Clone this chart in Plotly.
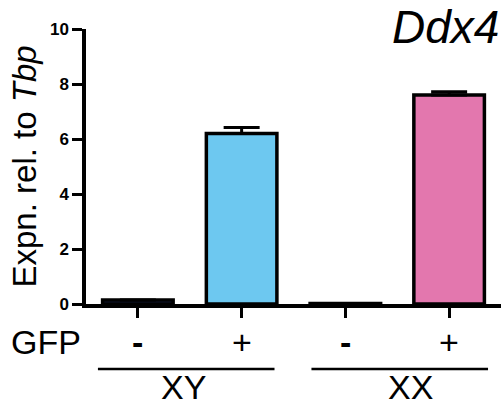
import plotly.graph_objects as go

categories = ["XY -", "XY +", "XX -", "XX +"]
gfp_labels = ["-", "+", "-", "+"]
values = [0.15, 6.2, 0.02, 7.6]
errors = [0.0, 0.22, 0.0, 0.12]
colors = ["#1B2753", "#6DC8F0", "#6B1F45", "#E377AE"]
group_labels = ["XY", "XX"]
y_ticks = [0, 2, 4, 6, 8, 10]

FONT = "Liberation Sans, Arial, Helvetica, sans-serif"
xs = list(range(len(categories)))

fig = go.Figure()
fig.add_trace(go.Bar(
    x=xs, y=values, width=0.68,
    marker=dict(color=colors, line=dict(color="black", width=3.5)),
    error_y=dict(type="data", array=errors, arrayminus=[0] * 4, symmetric=False,
                 color="black", thickness=3, width=18),
    showlegend=False,
))

annotations = []
for x, lab in zip(xs, gfp_labels):
    txt = "<b>-</b>" if lab == "-" else lab
    annotations.append(dict(x=x, y=-0.138, xref="x", yref="paper", text=txt,
                            showarrow=False, font=dict(size=34, family=FONT, color="black"),
                            xanchor="center", yanchor="middle"))
annotations.append(dict(x=-0.096, y=-0.138, xref="paper", yref="paper", text="GFP",
                        showarrow=False, font=dict(size=34, family=FONT, color="black"),
                        xanchor="center", yanchor="middle"))
group_pos = [0.44, 2.63]
group_lines = [(-0.385, 1.317), (1.673, 3.375)]
shapes = []
for lab, gx, (x0, x1) in zip(group_labels, group_pos, group_lines):
    annotations.append(dict(x=gx, y=-0.3745, xref="x", yref="paper", text=lab,
                            showarrow=False, font=dict(size=34, family=FONT, color="black"),
                            xanchor="center", yanchor="bottom", borderpad=0))
    shapes.append(dict(type="line", x0=x0, x1=x1, y0=-0.236, y1=-0.236,
                       xref="x", yref="paper", line=dict(color="black", width=2.5)))
annotations.append(dict(x=-0.147, y=0.5, xref="paper", yref="paper",
                        text="Expn. rel. to <i>Tbp</i>", textangle=-90, showarrow=False,
                        font=dict(size=33, family=FONT, color="black"),
                        xanchor="center", yanchor="middle"))
annotations.append(dict(x=1.0, y=1.009, xref="paper", yref="paper",
                        text="<i>Ddx4</i>", showarrow=False,
                        font=dict(size=46, family=FONT, color="black"),
                        xanchor="right", yanchor="middle"))

fig.update_layout(
    width=501, height=407,
    margin=dict(l=86, r=0, t=29, b=103),
    paper_bgcolor="white", plot_bgcolor="white",
    font=dict(family=FONT, color="black"),
    annotations=annotations, shapes=shapes,
    xaxis=dict(range=[-0.5, 3.5], tickvals=xs, ticktext=[""] * 4,
               showline=True, linecolor="black", linewidth=3.5,
               ticks="outside", ticklen=10, tickwidth=3, tickcolor="black",
               showgrid=False, zeroline=False),
    yaxis=dict(range=[0, 10], tickvals=y_ticks,
               showline=True, linecolor="black", linewidth=3.5,
               ticks="outside", ticklen=10, tickwidth=3, tickcolor="black",
               tickfont=dict(size=17, family=FONT, color="black", weight="bold"),
               showgrid=False, zeroline=False),
)

fig.write_html("out.html", config={"displayModeBar": False},
               post_script="document.body.style.margin='0';document.body.style.overflow='hidden';")
